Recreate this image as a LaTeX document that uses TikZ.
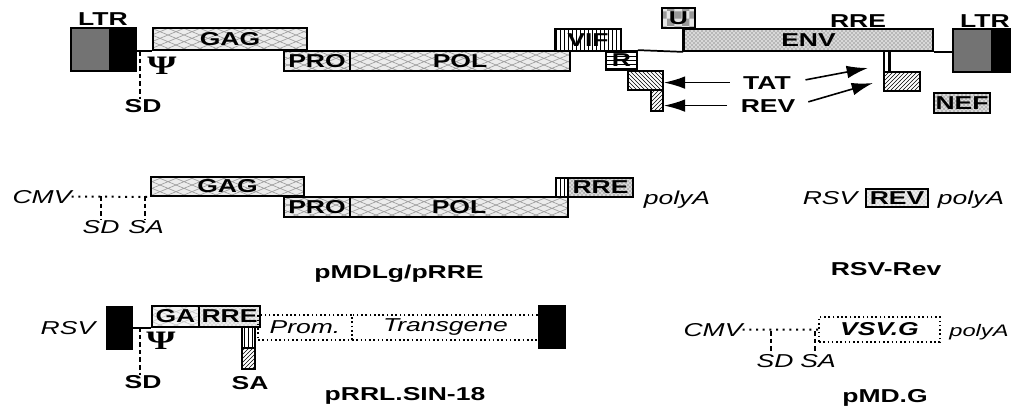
\documentclass[tikz,border=0pt]{standalone}
\usepackage{fontspec}
\newfontfamily\hv[FakeStretch=1.42,BoldFeatures={FakeStretch=1.42},ItalicFeatures={FakeStretch=1.42},BoldItalicFeatures={FakeStretch=1.42}]{Liberation Sans}
\newfontfamily\psifont[FakeStretch=1.4,BoldFeatures={FakeStretch=1.4}]{Liberation Serif}
\usetikzlibrary{patterns,patterns.meta,arrows.meta}
\tikzdeclarepattern{
  name=mesh,
  type=uncolored,
  bottom left={(-0.5pt,-0.5pt)},
  top right={(12.5pt,5.5pt)},
  tile size={(12pt,5pt)},
  code={\draw[line width=0.5pt] (0pt,0pt) -- (12pt,5pt) (0pt,5pt) -- (12pt,0pt);}
}
\newcommand\gbox[7]{%
  \node[#6, minimum width={(#4-#2)*0.75pt}, minimum height={(#5-#3)*0.75pt}] (#1) at ({(#2+#4)/2},{(#3+#5)/2}) {#7};}
\begin{document}
\begin{tikzpicture}[x=0.75pt,y=-0.75pt,
  lab/.style={font=\hv\bfseries\fontsize{14}{15}\selectfont, inner sep=0pt, anchor=base},
  ital/.style={font=\hv\itshape\fontsize{14}{15}\selectfont, inner sep=0pt, anchor=base},
  box/.style={draw, line width=1.3pt, inner sep=0pt, font=\hv\bfseries\fontsize{14}{15}\selectfont},
  meshbox/.style={box, preaction={fill=gray!15}, pattern=mesh, pattern color=gray!75},
  meshlight/.style={box, preaction={fill=gray!8}, pattern=mesh, pattern color=gray!40},
  dotbox/.style={box, preaction={fill=gray!30}, pattern=crosshatch dots, pattern color=black!70},
  dotlight/.style={box, preaction={fill=gray!15}, pattern=crosshatch dots, pattern color=gray!70},
  vbox/.style={box, pattern=vertical lines},
  hbox/.style={box, pattern=horizontal lines},
  nebox/.style={box, pattern=north east lines},
  nwbox/.style={box, pattern=north west lines},
  chkbox/.style={box, preaction={fill=gray!20}, pattern=checkerboard, pattern color=gray!80},
  ltrgray/.style={box, fill=black!55},
  ltrblack/.style={box, fill=black},
  dbox/.style={box, line width=1.2pt, dash pattern=on 1.2pt off 2pt, font=\hv\itshape\fontsize{14}{15}\selectfont},
  conn/.style={line width=1.3pt},
  dotl/.style={line width=1.5pt, dash pattern=on 1.5pt off 3.5pt},
  dashl/.style={line width=1.4pt, dash pattern=on 3.5pt off 2.2pt},
  arr/.style={line width=1.2pt, -{Latex[length=16pt,width=9.5pt]}},
  psi/.style={font=\psifont\bfseries\fontsize{20}{20}\selectfont, inner sep=0pt}]
\useasboundingbox (0,0) rectangle (1011,405);

% ---------------- Row 1: provirus ----------------
\node[lab] (ltrlab1) at (103,25) {LTR};
\gbox{ltra}{71}{28}{110}{71}{ltrgray}{}
\gbox{ltrb}{110}{28}{136}{71}{ltrblack}{}
\gbox{gag}{153}{28}{307}{50}{meshbox}{GAG}
\gbox{pro}{284}{51}{350}{71}{meshbox}{PRO}
\gbox{pol}{350}{51}{570}{71}{meshbox}{POL}
\gbox{vif}{555}{29}{621}{51}{vbox}{VIF}
\gbox{r}{606}{51}{637}{70}{hbox}{R}
\gbox{u}{662}{8}{695}{28}{chkbox}{U}
\gbox{env}{684}{29}{933}{51}{dotbox}{ENV}
\node[lab] (rrelab) at (858,27) {RRE};
\gbox{ltrc}{953}{29}{992}{72}{ltrgray}{}
\gbox{ltrd}{992}{29}{1013}{72}{ltrblack}{}
\node[lab] (ltrlab2) at (985,27) {LTR};
\gbox{tata}{628}{71}{663}{90}{nwbox}{}
\gbox{reva}{651}{90}{663}{111}{nebox}{}
\gbox{stemb}{884}{51}{890}{72}{vbox}{}
\gbox{tatb}{884}{72}{920}{91}{nebox}{}
\gbox{nef}{934}{93}{990}{113}{dotbox}{NEF}

\draw[conn] (ltrb.east |- gag.south) -- (gag.south west);
\draw[conn] (r.north east) -- (env.south west);
\draw[conn] (u.south -| env.west) -- (env.south west);
\draw[conn] (env.south east) -- (ltrc.west |- env.south east);

\node[psi] (psi1) at (162,66) {Ψ};
\coordinate (sdtop1) at (140,51);
\node[lab] (sd1) at (143,112) {SD};
\draw[dashl] (sdtop1) -- (sdtop1 |- sd1.north);

\node[lab] (tat) at (767,89) {TAT};
\node[lab] (rev) at (768,112) {REV};
\coordinate (tattip) at (868,68);
\coordinate (revtip) at (873,83);
\draw[arr, shorten <=10pt] (tat.west) -- (tat.west -| tata.east);
\draw[arr, shorten <=10pt] (rev.west) -- (rev.west -| reva.east);
\draw[arr, shorten <=11pt] (tat.east) -- (tattip);
\draw[arr, shorten <=10pt] (rev.east) -- (revtip);

% ---------------- Row 2: pMDLg/pRRE and RSV-Rev ----------------
\node[ital] (cmv2) at (42,203) {CMV};
\gbox{gag2}{151}{177}{304}{196}{meshbox}{GAG}
\gbox{pro2}{284}{197}{350}{217}{meshbox}{PRO}
\gbox{pol2}{350}{197}{568}{217}{meshbox}{POL}
\gbox{vs2}{556}{178}{568}{197}{vbox}{}
\gbox{rre2}{568}{178}{633}{197}{dotbox}{RRE}
\node[ital] (pa2) at (677,204) {polyA};
\draw[dotl] (cmv2.east) -- (gag2.south west);
\coordinate (sd2) at (101,196);
\coordinate (sa2) at (145,196);
\node[ital] (sd2l) at (101,233) {SD};
\node[ital] (sa2l) at (146,233) {SA};
\draw[dashl] (sd2) -- (sd2 |- sd2l.north);
\draw[dashl] (sa2) -- (sa2 |- sa2l.north);
\node[lab] (t1) at (399,278) {pMDLg/pRRE};

\node[ital] (rsv2) at (830,204) {RSV};
\gbox{revbox}{866}{189}{928}{207}{dotlight}{REV}
\node[ital] (pa3) at (971,204) {polyA};
\node[lab] (t2) at (886,275) {RSV-Rev};

% ---------------- Row 3: pRRL.SIN-18 and pMD.G ----------------
\node[ital] (rsv3) at (68,334) {RSV};
\gbox{bl1}{107}{307}{132}{349}{ltrblack}{}
\gbox{ga3}{152}{306}{199}{327}{meshlight}{GA}
\gbox{rre3}{199}{306}{260}{327}{dotlight}{RRE}
\draw[conn] (bl1.east |- ga3.south) -- (ga3.south west);
\node[psi] (psi3) at (161,341) {Ψ};
\coordinate (sdtop3) at (140,327);
\node[lab] (sd3) at (143,388) {SD};
\draw[dashl] (sdtop3) -- (sdtop3 |- sd3.north);
\gbox{stem3}{242}{327}{255}{348}{vbox}{}
\gbox{sa3b}{242}{348}{255}{369}{nebox}{}
\node[lab] (sa3) at (250,389) {SA};
\gbox{prom}{258}{315}{352}{340}{dbox}{Prom.}
\gbox{tg}{352}{315}{539}{340}{dbox}{Transgene}
\gbox{bl2}{539}{306}{565}{348}{ltrblack}{}
\node[lab] (t3) at (405,400) {pRRL.SIN-18};

\node[ital] (cmv3) at (713,336) {CMV};
\gbox{vsv}{819}{317}{940}{342}{dbox}{\bfseries VSV.G}
\node[ital, font=\hv\itshape\fontsize{12.5}{14}\selectfont] (pa4) at (979,336) {polyA};
\draw[dotl] (cmv3.east) -- (vsv.west);
\coordinate (sd4) at (771,331);
\coordinate (sa4) at (815,331);
\node[ital] (sd4l) at (775,367) {SD};
\node[ital] (sa4l) at (818,367) {SA};
\draw[dashl] (sd4) -- (sd4 |- sd4l.north);
\draw[dashl] (sa4) -- (sa4 |- sa4l.north);
\node[lab] (t4) at (885,402) {pMD.G};
\end{tikzpicture}
\end{document}
